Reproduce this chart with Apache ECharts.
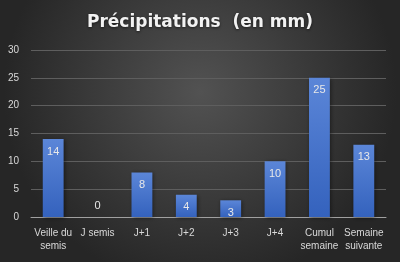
<!DOCTYPE html>
<html><head><meta charset="utf-8">
<script src="https://cdn.jsdelivr.net/npm/echarts@6/dist/echarts.min.js"></script>
<style>html,body{margin:0;padding:0;background:#333}#c{width:400px;height:262px}</style>
</head><body><div id="c"></div>
<script>
const categories = ['Veille du\nsemis', 'J semis', 'J+1', 'J+2', 'J+3', 'J+4', 'Cumul\nsemaine', 'Semaine\nsuivante'];
const values = [14, 0, 8, 4, 3, 10, 25, 13];
const yTicks = [0, 5, 10, 15, 20, 25, 30];

const chart = echarts.init(document.getElementById('c'), null, {renderer: 'canvas'});
chart.setOption({
  animation: false,
  backgroundColor: {
    type: 'radial', x: 0.5, y: 0.35, r: 0.75,
    colorStops: [{offset: 0, color: '#525252'}, {offset: 1, color: '#262626'}]
  },
  title: {
    text: 'Précipitations  (en mm)',
    left: 'center', top: 9,
    textStyle: {color: '#f2f2f2', fontFamily: 'DejaVu Sans', fontWeight: 'bold', fontSize: 17,
      textShadowColor: 'rgba(0,0,0,0.6)', textShadowBlur: 3, textShadowOffsetY: 1}
  },
  grid: {left: 31, right: 14, top: 50, bottom: 45},
  xAxis: {
    type: 'category', data: categories,
    axisTick: {show: false},
    axisLine: {lineStyle: {color: '#a0a0a0', width: 1}},
    axisLabel: {color: '#d9d9d9', fontFamily: 'Liberation Sans', fontSize: 10, interval: 0, lineHeight: 13, margin: 10}
  },
  yAxis: {
    type: 'value', min: yTicks[0], max: yTicks[yTicks.length - 1], interval: 5,
    axisLine: {show: false}, axisTick: {show: false},
    splitLine: {lineStyle: {color: '#5e5e5e', width: 1}},
    axisLabel: {color: '#d9d9d9', fontFamily: 'Liberation Sans', fontSize: 10, margin: 12}
  },
  series: [{
    type: 'bar', barWidth: '47%',
    data: values.map(v => v === 0 ? {value: v, label: {position: 'top', distance: 6}} : v),
    itemStyle: {
      color: {type: 'linear', x: 0, y: 0, x2: 0, y2: 1,
        colorStops: [{offset: 0, color: '#5b86d8'}, {offset: 1, color: '#3462bd'}]},
      shadowColor: 'rgba(0,0,0,0.45)', shadowBlur: 4, shadowOffsetX: 1, shadowOffsetY: 1
    },
    label: {show: true, position: 'insideTop', distance: 7, color: '#e8e8e8', fontFamily: 'Liberation Sans', fontSize: 11}
  }]
});
</script></body></html>
